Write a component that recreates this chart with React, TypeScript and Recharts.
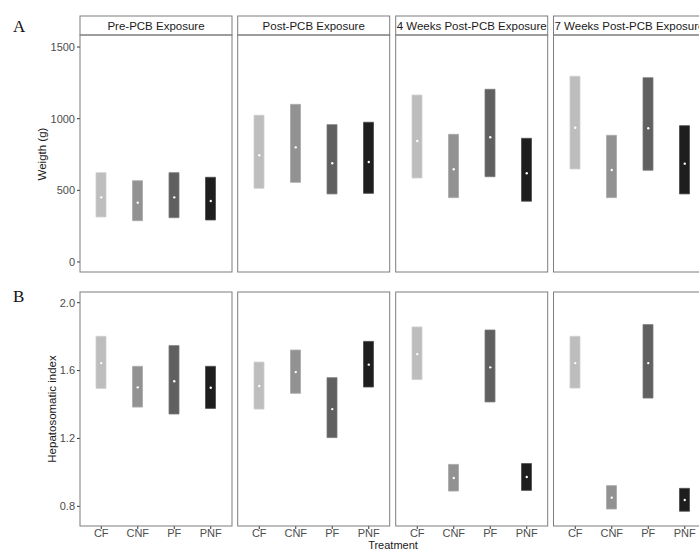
import React from 'react';
import { ComposedChart, Bar, Line, XAxis, YAxis, Cell } from 'recharts';

const treatments = ['CF', 'CNF', 'PF', 'PNF'];
const periods = ['Pre-PCB Exposure', 'Post-PCB Exposure', '4 Weeks Post-PCB Exposure', '7 Weeks Post-PCB Exposure'];

const weightLow = [[314, 288, 309, 293], [514, 556, 475, 479], [586, 449, 595, 424], [649, 449, 640, 475]];
const weightMean = [[451, 414, 451, 426], [745, 800, 689, 698], [844, 647, 870, 619], [937, 642, 933, 686]];
const weightHigh = [[623, 567, 623, 591], [1024, 1100, 958, 975], [1165, 891, 1205, 863], [1296, 884, 1286, 951]];

const hsiLow = [[1.495, 1.385, 1.344, 1.377], [1.373, 1.466, 1.205, 1.503], [1.547, 0.89, 1.415, 0.894], [1.497, 0.784, 1.438, 0.771]];
const hsiMean = [[1.644, 1.501, 1.537, 1.499], [1.509, 1.591, 1.373, 1.635], [1.697, 0.967, 1.619, 0.973], [1.644, 0.851, 1.644, 0.837]];
const hsiHigh = [[1.802, 1.625, 1.747, 1.625], [1.65, 1.721, 1.558, 1.772], [1.857, 1.047, 1.839, 1.052], [1.802, 0.922, 1.871, 0.906]];

const weightTicks = [0, 500, 1000, 1500];
const hsiTicks = [0.8, 1.2, 1.6, 2.0];

const fills = ['#bdbdbd', '#929292', '#606060', '#1e1e1e'];
const strokes = ['#cfcfcf', '#a8a8a8', '#7a7a7a', '#4a4a4a'];

const FONT = '"Liberation Sans", Arial, sans-serif';
const PANEL_X = [80, 237.7, 395.7, 553.5];
const PW = 152;
const ROW_TOP = [35, 292];
const ROW_H = [237, 234];
const FRAME = '#7d7d7d';
const TICK_STYLE = { fill: '#4d4d4d', stroke: 'none', fontSize: 11, fontFamily: FONT };

function Panel({ row, col }: { row: number; col: number }) {
  const isA = row === 0;
  const low = isA ? weightLow[col] : hsiLow[col];
  const mean = isA ? weightMean[col] : hsiMean[col];
  const high = isA ? weightHigh[col] : hsiHigh[col];
  const data = treatments.map((t, i) => ({ treatment: t, range: [low[i], high[i]], mean: mean[i] }));
  const yW = col === 0 ? 50 : 0;
  const xH = isA ? 4 : 16;
  const plotH = ROW_H[row];
  return (
    <div style={{ position: 'absolute', left: PANEL_X[col] - yW, top: ROW_TOP[row] }}>
      <ComposedChart width={PW + yW} height={plotH + xH} data={data} margin={{ top: 0, right: 0, bottom: 0, left: 0 }}>
        <XAxis
          dataKey="treatment"
          padding={{ left: 3, right: 3 }}
          axisLine={false}
          tickLine={{ stroke: '#333' }}
          tickSize={3}
          tickMargin={0}
          height={xH}
          interval={0}
          tick={isA ? false : TICK_STYLE}
        />
        <YAxis
          type="number"
          domain={isA ? [-70, 1584] : [0.684, 2.063]}
          ticks={isA ? weightTicks : hsiTicks}
          allowDataOverflow
          hide={col !== 0}
          width={yW}
          axisLine={false}
          tickLine={{ stroke: '#333' }}
          tickSize={3}
          tickMargin={2}
          tick={TICK_STYLE}
          tickFormatter={(v: number) => (isA ? String(v) : v.toFixed(1))}
        />
        <Bar dataKey="range" barSize={10} isAnimationActive={false}>
          {data.map((d, i) => (
            <Cell key={d.treatment} fill={fills[i]} stroke={strokes[i]} strokeWidth={0.8} />
          ))}
        </Bar>
        <Line
          dataKey="mean"
          stroke="none"
          strokeWidth={0}
          dot={{ r: 1.2, fill: '#ffffff', stroke: 'none' }}
          activeDot={false}
          isAnimationActive={false}
        />
      </ComposedChart>
    </div>
  );
}

export default function App() {
  return (
    <div style={{ position: 'absolute', left: 0, top: 0, width: 699, height: 549, background: '#fff', overflow: 'hidden' }}>
      {[0, 1].map((row) => [0, 1, 2, 3].map((col) => <Panel key={`${row}-${col}`} row={row} col={col} />))}
      <svg width={699} height={549} style={{ position: 'absolute', left: 0, top: 0, pointerEvents: 'none' }}>
        {PANEL_X.map((x, i) => (
          <g key={`f${i}`}>
            <rect x={x} y={16} width={PW} height={19} fill="none" stroke={FRAME} strokeWidth={1} />
            <text x={x + PW / 2} y={26} textAnchor="middle" dominantBaseline="central" fontSize={11.5} fontFamily={FONT} fill="#1a1a1a">
              {periods[i]}
            </text>
            <rect x={x} y={ROW_TOP[0]} width={PW} height={ROW_H[0]} fill="none" stroke={FRAME} strokeWidth={1} />
            <rect x={x} y={ROW_TOP[1]} width={PW} height={ROW_H[1]} fill="none" stroke={FRAME} strokeWidth={1} />
          </g>
        ))}
        <text x={13} y={32} fontSize={17} fontFamily='"Liberation Serif", "Times New Roman", serif' fill="#111">A</text>
        <text x={13} y={302} fontSize={17} fontFamily='"Liberation Serif", "Times New Roman", serif' fill="#111">B</text>
        <text x={42} y={154} transform="rotate(-90 42 154)" textAnchor="middle" dominantBaseline="central" fontSize={11.5} fontFamily={FONT} fill="#1a1a1a">
          Weigth (g)
        </text>
        <text x={52} y={409} transform="rotate(-90 52 409)" textAnchor="middle" dominantBaseline="central" fontSize={11.5} fontFamily={FONT} fill="#1a1a1a">
          Hepatosomatic index
        </text>
        <text x={393} y={544.5} textAnchor="middle" dominantBaseline="central" fontSize={11} fontFamily={FONT} fill="#1a1a1a">
          Treatment
        </text>
      </svg>
    </div>
  );
}
